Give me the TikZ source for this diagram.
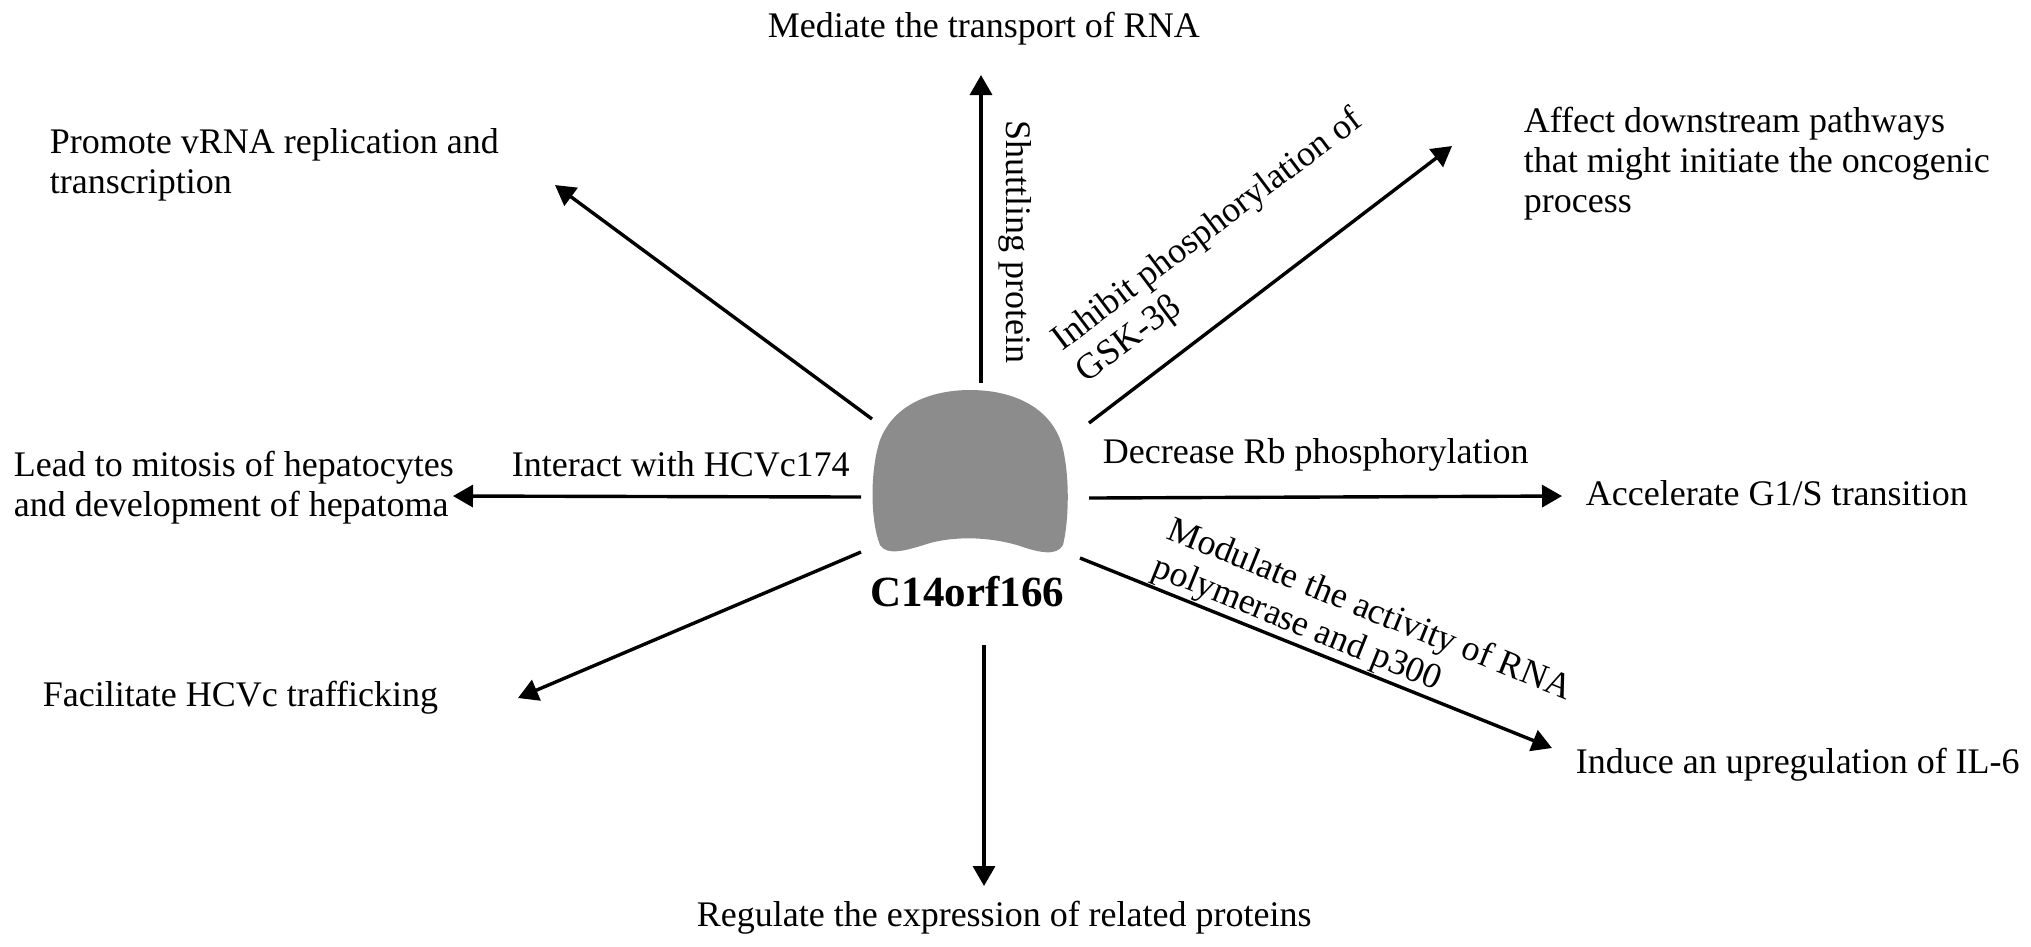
\documentclass[tikz,border=0pt]{standalone}
\usepackage{fontspec}
\setmainfont{Liberation Serif}
\usetikzlibrary{arrows.meta}
\definecolor{blobgray}{RGB}{140,140,140}
\begin{document}
\begin{tikzpicture}[x=0.25pt,y=-0.25pt,
  lbl/.style={inner sep=0pt, anchor=base west, align=left, font=\fontsize{9pt}{10pt}\selectfont},
  arr/.style={line width=0.85pt, -{Triangle[width=5.5pt,length=5pt]}}]
\useasboundingbox (0,0) rectangle (2031,946);
% central protein shape
\fill[blobgray] (880,545) .. controls (870,520) and (870,470) .. (880,440)
  .. controls (895,402) and (935,390) .. (970,390)
  .. controls (1010,390) and (1050,405) .. (1062,445)
  .. controls (1070,475) and (1069,520) .. (1063,545)
  .. controls (1057,556) and (1040,553) .. (1020,546)
  .. controls (995,538) and (960,535) .. (930,543)
  .. controls (905,551) and (887,556) .. (880,545) -- cycle;
\node[inner sep=0pt, anchor=base west, font=\bfseries\fontsize{10.75pt}{12pt}\selectfont] (prot) at (870,606) {C14orf166};
% arrow end points
\coordinate (tU) at (981,383);  \coordinate (hU) at (981,75);
\coordinate (tNW) at (872,419); \coordinate (hNW) at (555,185);
\coordinate (tNE) at (1089,423); \coordinate (hNE) at (1452,146);
\coordinate (tW) at (861,497);  \coordinate (hW) at (453,496);
\coordinate (tE) at (1089,498); \coordinate (hE) at (1562,496);
\coordinate (tSW) at (861,552); \coordinate (hSW) at (518,698);
\coordinate (tSE) at (1080,558); \coordinate (hSE) at (1552,748);
\coordinate (tD) at (984,645);  \coordinate (hD) at (984,886);
\draw[arr] (tU) -- (hU);
\draw[arr] (tNW) -- (hNW);
\draw[arr] (tNE) -- (hNE);
\draw[arr] (tW) -- (hW);
\draw[arr] (tE) -- (hE);
\draw[arr] (tSW) -- (hSW);
\draw[arr] (tSE) -- (hSE);
\draw[arr] (tD) -- (hD);
% outcome texts (multi-line nodes are placed by the baseline of their last line)
\node[lbl] (mediate) at (767,37) {Mediate the transport of RNA};
\node[lbl] (promote) at (49,193) {Promote vRNA replication and\\transcription};
\node[lbl] (affect) at (1523,212) {Affect downstream pathways\\that might initiate the oncogenic\\process};
\node[lbl] (lead) at (13,516) {Lead to mitosis of hepatocytes\\and development of hepatoma};
\node[lbl] (accel) at (1585,505) {Accelerate G1/S transition};
\node[lbl] (facil) at (42,706) {Facilitate HCVc trafficking};
\node[lbl] (induce) at (1575,773) {Induce an upregulation of IL-6};
\node[lbl] (regul) at (696,926) {Regulate the expression of related proteins};
% arrow labels
\node[lbl] (interact) at (511,476) {Interact with HCVc174};
\node[lbl] (decrease) at (1102,463) {Decrease Rb phosphorylation};
\node[lbl, rotate=-90] (shuttle) at (1006,120) {Shuttling protein};
\node[lbl, rotate=37] (inhibit) at (1086,384) {Inhibit phosphorylation of\\GSK-3β};
\node[lbl, rotate=-22] (modul) at (1150,575) {Modulate the activity of RNA\\polymerase and p300};
\end{tikzpicture}
\end{document}
